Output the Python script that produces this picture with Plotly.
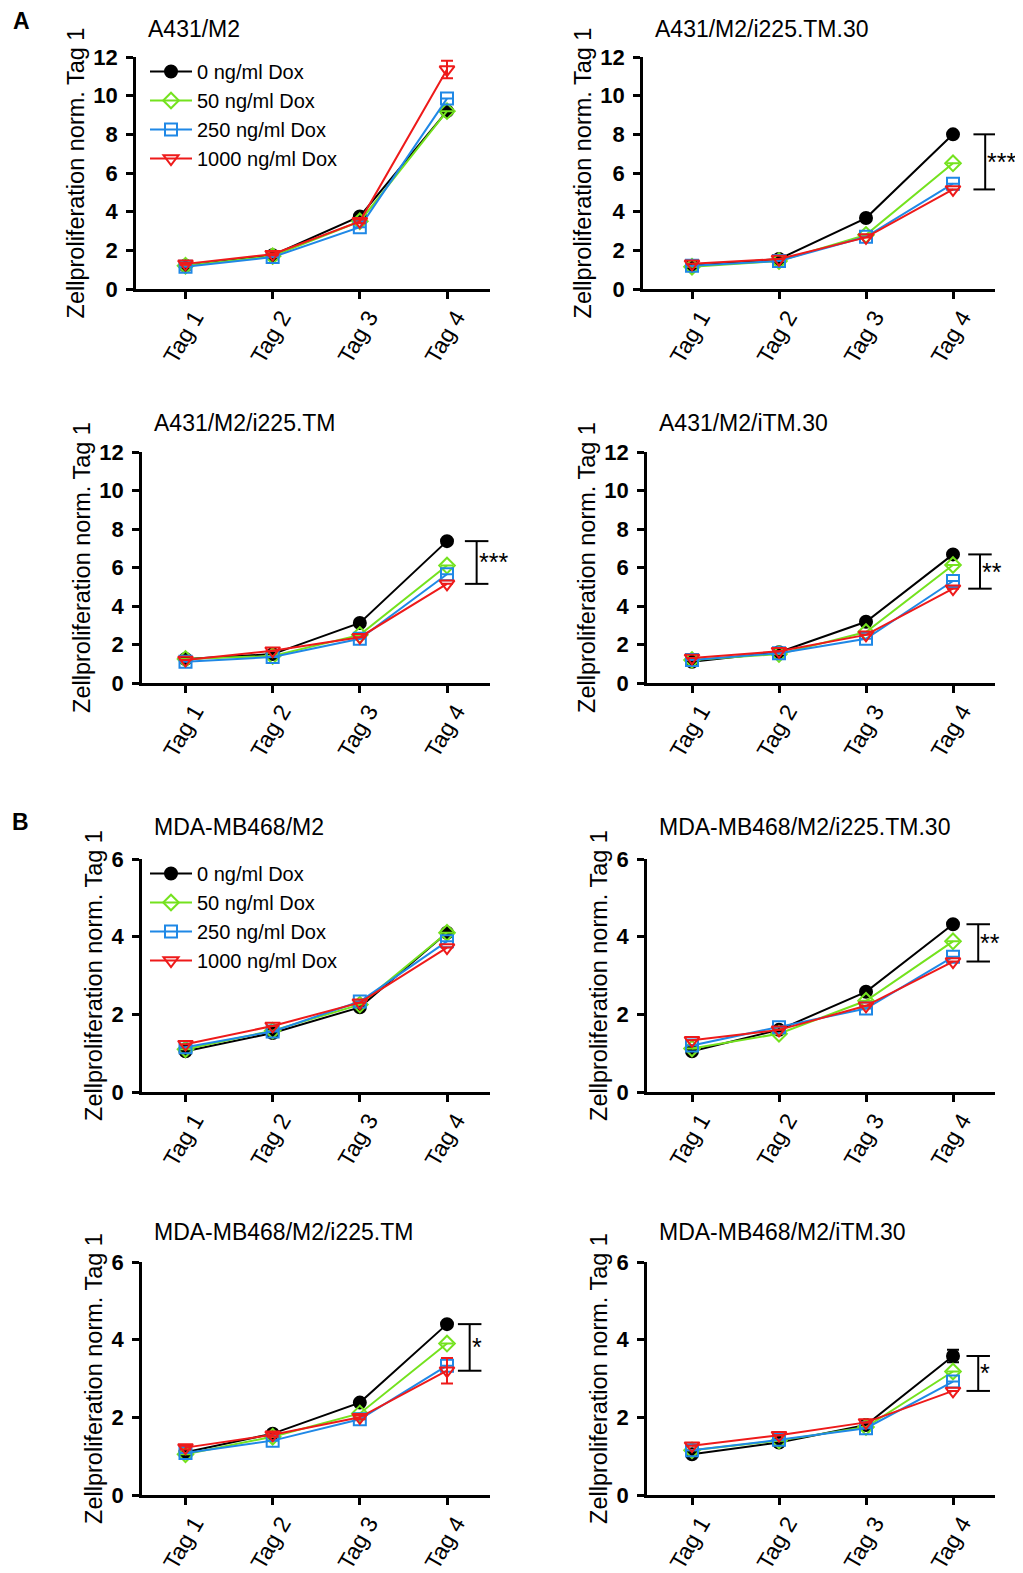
import plotly.graph_objects as go

# ---------------- data ----------------
days = ["Tag 1", "Tag 2", "Tag 3", "Tag 4"]
doses = ["0 ng/ml Dox", "50 ng/ml Dox", "250 ng/ml Dox", "1000 ng/ml Dox"]
titles = ["A431/M2", "A431/M2/i225.TM.30", "A431/M2/i225.TM", "A431/M2/iTM.30",
          "MDA-MB468/M2", "MDA-MB468/M2/i225.TM.30", "MDA-MB468/M2/i225.TM", "MDA-MB468/M2/iTM.30"]

# each: [0, 50, 250, 1000 ng/ml Dox] x [Tag 1..4]
a431_m2 = [[1.2, 1.75, 3.75, 9.2], [1.2, 1.7, 3.5, 9.2], [1.15, 1.65, 3.2, 9.85], [1.3, 1.8, 3.5, 11.35]]
a431_i225tm30 = [[1.2, 1.55, 3.67, 8.0], [1.15, 1.45, 2.8, 6.5], [1.2, 1.45, 2.7, 5.45], [1.3, 1.55, 2.67, 5.15]]
a431_i225tm = [[1.25, 1.5, 3.12, 7.37], [1.25, 1.4, 2.5, 6.1], [1.1, 1.35, 2.3, 5.65], [1.2, 1.68, 2.38, 5.15]]
a431_itm30 = [[1.1, 1.6, 3.18, 6.68], [1.2, 1.5, 2.65, 6.13], [1.2, 1.55, 2.3, 5.3], [1.3, 1.65, 2.5, 4.9]]
mda_m2 = [[1.05, 1.52, 2.18, 4.1], [1.1, 1.58, 2.25, 4.1], [1.15, 1.56, 2.33, 3.88], [1.23, 1.7, 2.3, 3.72]]
mda_i225tm30 = [[1.05, 1.6, 2.58, 4.32], [1.12, 1.5, 2.35, 3.88], [1.2, 1.67, 2.15, 3.48], [1.33, 1.6, 2.22, 3.36]]
mda_i225tm = [[1.1, 1.58, 2.38, 4.4], [1.05, 1.5, 2.1, 3.9], [1.08, 1.4, 1.95, 3.33], [1.22, 1.55, 2.0, 3.2]]
mda_itm30 = [[1.05, 1.35, 1.8, 3.58], [1.15, 1.4, 1.75, 3.18], [1.15, 1.42, 1.72, 2.92], [1.27, 1.54, 1.87, 2.68]]
panels = [a431_m2, a431_i225tm30, a431_i225tm, a431_itm30, mda_m2, mda_i225tm30, mda_i225tm, mda_itm30]

# standard errors (only the visible ones are non-zero)
zero_err = [0, 0, 0, 0]
a431_m2_red_err = [0.05, 0.05, 0.1, 0.45]
mda_i225tm_red_err = [0.05, 0.05, 0.05, 0.33]
mda_itm30_black_err = [0.03, 0.03, 0.05, 0.16]
errors = {(0, 3): a431_m2_red_err, (6, 3): mda_i225tm_red_err, (7, 0): mda_itm30_black_err}

significance = ["", "***", "***", "**", "", "**", "*", "*"]
y_max = [12, 12, 12, 12, 6, 6, 6, 6]
y_ticks_a = [0, 2, 4, 6, 8, 10, 12]
y_ticks_b = [0, 2, 4, 6]

# ---------------- style / layout ----------------
colors = ["#000000", "#74e21e", "#1f88e6", "#ee1a1a"]
symbols = ["circle", "diamond-open", "square-open", "triangle-down-open"]
msizes = [12, 12, 12, 13]
FONT = "Liberation Sans, Arial, Helvetica, sans-serif"
OFF = 8                      # default body margin of the html page
W, H = 1023 - OFF, 1573 - OFF


def px_x(p):
    return (p - OFF) / W


def px_y(p):
    return 1 - (p - OFF) / H


rows_px = [(57, 289), (452, 683), (859, 1092), (1262, 1495)]
left_px = [136, 142, 142, 142]
right_px = [643, 647, 647, 647]
col_end = [490, 995]
col_tag1 = [185.5, 692]
col_tag4 = [447, 953]
title_y_px = [29, 423, 827, 1232]
bracket_x = [None, 3.37, 3.34, 3.31, None, 3.29, 3.26, 3.29]
bracket_half = 0.135

fig = go.Figure()
layout = dict(
    width=W, height=H, margin=dict(l=0, r=0, t=0, b=0, autoexpand=False),
    paper_bgcolor="white", plot_bgcolor="white",
    font=dict(family=FONT, color="black", size=20),
    showlegend=True,
)
annotations = []
shapes = []

for i, data in enumerate(panels):
    n = i + 1
    row, col = i // 2, i % 2
    top, bot = rows_px[row]
    x0 = left_px[row] if col == 0 else right_px[row]
    x1 = col_end[col]
    step = (col_tag4[col] - col_tag1[col]) / 3.0
    xr = [-(col_tag1[col] - x0) / step, 3 + (x1 - col_tag4[col]) / step]
    xa = "x" if n == 1 else f"x{n}"
    ya = "y" if n == 1 else f"y{n}"
    for k in range(4):
        err = errors.get((i, k), zero_err)
        fig.add_trace(go.Scatter(
            x=list(range(4)), y=data[k], mode="lines+markers", name=doses[k],
            xaxis=xa, yaxis=ya,
            line=dict(color=colors[k], width=2),
            marker=dict(symbol=symbols[k], size=msizes[k], color=colors[k],
                        line=dict(color=colors[k], width=2)),
            error_y=dict(type="data", array=err, visible=True, color=colors[k],
                         thickness=2, width=6),
            showlegend=i in (0, 4),
            legend="legend" if i < 4 else "legend2",
            cliponaxis=False,
        ))
    layout[f"xaxis{'' if n == 1 else n}"] = dict(
        domain=[px_x(x0), px_x(x1)], anchor=ya, range=xr, automargin=False,
        tickvals=list(range(4)), ticktext=days, tickangle=-60,
        ticklabelshift=9, ticklabelstandoff=-4,
        showline=True, linewidth=2.5, linecolor="black",
        ticks="outside", ticklen=7, tickwidth=2.5, tickcolor="black",
        showgrid=False, zeroline=False, tickfont=dict(size=23, family=FONT),
    )
    layout[f"yaxis{'' if n == 1 else n}"] = dict(
        domain=[px_y(bot), px_y(top)], anchor=xa, range=[0, y_max[i]], automargin=False,
        tickvals=y_ticks_a if y_max[i] == 12 else y_ticks_b,
        showline=True, linewidth=2.5, linecolor="black",
        ticks="outside", ticklen=7, tickwidth=2.5, tickcolor="black",
        showgrid=False, zeroline=False,
        tickfont=dict(size=22, family=FONT, weight="bold"),
        ticklabelstandoff=4,
        title=dict(text="Zellproliferation norm. Tag 1", font=dict(size=23.5, family=FONT), standoff=3),
    )
    annotations.append(dict(text=titles[i], xref="paper", yref="paper",
                            x=px_x(x0 + 10), y=px_y(title_y_px[row]),
                            xanchor="left", yanchor="middle", showarrow=False,
                            font=dict(size=23, family=FONT)))
    if significance[i]:
        last = [d[3] for d in data]
        ytop, ybot = max(last), min(last)
        xv = bracket_x[i]
        shapes.append(dict(type="line", xref=xa, yref=ya, x0=xv, x1=xv, y0=ybot, y1=ytop,
                           line=dict(color="black", width=2)))
        for yy in (ytop, ybot):
            shapes.append(dict(type="line", xref=xa, yref=ya, x0=xv - bracket_half,
                               x1=xv + bracket_half, y0=yy, y1=yy,
                               line=dict(color="black", width=2)))
        annotations.append(dict(text=significance[i], xref=xa, yref=ya,
                                x=xv, y=(ytop + ybot) / 2, xanchor="left", yanchor="middle",
                                xshift=1, borderpad=0,
                                showarrow=False, font=dict(size=25, family=FONT)))

annotations.append(dict(text="<b>A</b>", xref="paper", yref="paper", x=px_x(12), y=px_y(21),
                        xanchor="left", yanchor="middle", showarrow=False, borderpad=0,
                        font=dict(size=23, family=FONT)))
annotations.append(dict(text="<b>B</b>", xref="paper", yref="paper", x=px_x(11), y=px_y(822),
                        xanchor="left", yanchor="middle", showarrow=False, borderpad=0,
                        font=dict(size=23, family=FONT)))

for name, top_px in (("legend", 52), ("legend2", 854)):
    layout[name] = dict(x=px_x(145), y=px_y(top_px), xanchor="left", yanchor="top",
                        bgcolor="rgba(0,0,0,0)", font=dict(size=20, family=FONT),
                        tracegroupgap=0, itemwidth=42)
layout["annotations"] = annotations
layout["shapes"] = shapes
fig.update_layout(**layout)
fig.write_html("out.html")
